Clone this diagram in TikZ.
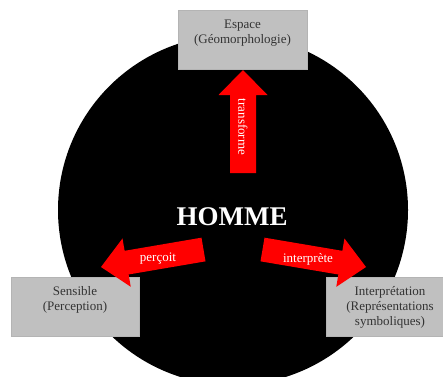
\documentclass[tikz,border=0pt]{standalone}
\usepackage{fontspec}
\setmainfont{Liberation Serif}
\usetikzlibrary{calc}
\definecolor{boxgray}{HTML}{C0C0C0}
\definecolor{boxline}{HTML}{B4B4B4}
\definecolor{txtgray}{HTML}{333333}
\tikzset{
  boxnode/.style={draw=boxline, line width=0.6pt, fill=boxgray, minimum width=129pt, minimum height=59pt, inner sep=0pt},
  boxtext/.style={anchor=north, inner sep=0pt, align=center, text=txtgray, font=\fontsize{13}{14.8}\selectfont},
  arrowlabel/.style={text=white, inner sep=0pt, font=\fontsize{13}{15}\selectfont},
}
% fat arrow: #1 tail, #2 tip, #3 half shaft, #4 half head, #5 head length
\newcommand{\fatarrow}[5]{%
  \coordinate (H) at ($(#2)!#5!(#1)$);
  \fill[red] ($(#1)!#3!90:(#2)$) -- ($(H)!#3!-90:(#1)$) -- ($(H)!#4!-90:(#1)$)
    -- (#2) -- ($(H)!#4!90:(#1)$) -- ($(H)!#3!90:(#1)$) -- ($(#1)!#3!-90:(#2)$) -- cycle;
}
\begin{document}
\begin{tikzpicture}[x=1pt,y=-1pt]
\useasboundingbox (0,0) rectangle (443,376);
\clip (0,0) rectangle (443,376);
\fill[white] (0,0) rectangle (443,376);
% circle
\fill[black] (233,210) circle[radius=175pt];
% central label
\node[text=white, font=\fontsize{27}{30}\selectfont\bfseries] (homme) at (232,217) {HOMME};
% boxes
\node[boxnode] (espace) at (242.5,39.5) {};
\node[boxnode, minimum width=128pt] (sensible) at (75,306.5) {};
\node[boxnode, minimum width=128pt] (interp) at (390,306.5) {};
\node[boxtext] (espaceT) at ($(espace.north)+(0,10.5)$) {Espace\\(Géomorphologie)};
\node[boxtext] (sensibleT) at ($(sensible.north)+(0,10)$) {Sensible\\(Perception)};
\node[boxtext] (interpT) at ($(interp.north)+(0,10)$) {Interprétation\\(Représentations\\symboliques)};
% arrows
\coordinate (upA) at (243,173);
\coordinate (upB) at (243,70);
\coordinate (leftA) at (203.5,249.5);
\coordinate (leftB) at (101,267);
\coordinate (rightA) at (262.5,249.5);
\coordinate (rightB) at (366,267);
\fatarrow{upA}{upB}{13pt}{24.5pt}{25pt}
\fatarrow{leftA}{leftB}{12pt}{24.5pt}{26pt}
\fatarrow{rightA}{rightB}{12pt}{24.5pt}{26pt}
\node[arrowlabel, rotate=-90] (lblT) at (243,127) {transforme};
\node[arrowlabel] (lblP) at (158,259) {perçoit};
\node[arrowlabel] (lblI) at (308,259) {interprète};
\end{tikzpicture}
\end{document}
